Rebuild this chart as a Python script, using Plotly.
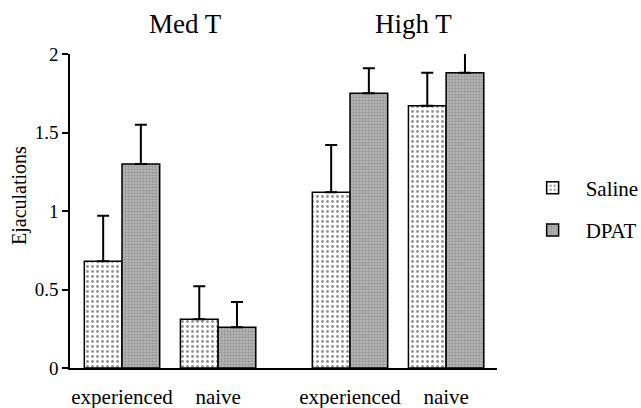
import plotly.graph_objects as go

# ---- data ----
groups = ["experienced", "naive", "experienced", "naive"]
conditions = ["Med T", "Med T", "High T", "High T"]
saline = [0.68, 0.31, 1.12, 1.67]
saline_err = [0.29, 0.21, 0.30, 0.21]
dpat = [1.30, 0.26, 1.75, 1.88]
dpat_err = [0.25, 0.16, 0.16, 0.13]
y_ticks = [0, 0.5, 1, 1.5, 2]
y_ticktext = ["0", "0.5", "1", "1.5", "2"]

# ---- layout positions (group centres, larger gap between Med T and High T) ----
step = 2.55
cond_gap = 0.95
start = 1.38
pos = [start + step * i + (cond_gap if i >= 2 else 0) for i in range(len(groups))]

FONT = "Liberation Serif"

fig = go.Figure()
fig.add_trace(go.Bar(
    x=pos, y=saline, name="Saline", legendgroup="s", cliponaxis=False,
    marker=dict(color="white", line=dict(color="black", width=1.5),
                pattern=dict(shape=".", fgcolor="#222", bgcolor="white", size=5, solidity=0.25)),
    error_y=dict(type="data", symmetric=False, array=saline_err,
                 arrayminus=[0] * len(saline_err), color="black", thickness=2, width=6),
))
fig.add_trace(go.Bar(
    x=pos, y=dpat, name="DPAT", legendgroup="d", cliponaxis=False,
    marker=dict(color="#a8a8a8", line=dict(color="black", width=1.5),
                pattern=dict(shape=".", fgcolor="#707070", bgcolor="#b4b4b4", size=3, solidity=0.4)),
    error_y=dict(type="data", symmetric=False, array=dpat_err,
                 arrayminus=[0] * len(dpat_err), color="black", thickness=2, width=6),
))

# condition titles above groups
for cond in ["Med T", "High T"]:
    idx = [i for i, c in enumerate(conditions) if c == cond]
    cx = (pos[idx[0]] + pos[idx[-1]]) / 2 + 0.4
    fig.add_annotation(x=cx, xref="x", y=1.096, yref="paper", text=cond, showarrow=False,
                       font=dict(family=FONT, size=27, color="black"),
                       xanchor="center", yanchor="middle")

fig.add_annotation(x=-0.117, xref="paper", y=0.548, yref="paper", text="Ejaculations",
                   textangle=-90, showarrow=False, xanchor="center", yanchor="middle",
                   font=dict(family=FONT, size=20, color="black"))

fig.update_layout(
    width=641, height=408,
    margin=dict(l=70, r=144, t=54, b=40, autoexpand=False),
    paper_bgcolor="white", plot_bgcolor="white",
    barmode="group", bargap=1 - 2 / step, bargroupgap=0,
    font=dict(family=FONT, color="black"),
    showlegend=True,
    legend=dict(x=1.053, xanchor="left", y=0.506, yanchor="middle",
                traceorder="grouped", tracegroupgap=12, itemwidth=56,
                font=dict(family=FONT, size=21, color="black"), bgcolor="rgba(0,0,0,0)"),
    xaxis=dict(range=[0, 11.33], showline=True, linecolor="black", linewidth=1.5,
               tickvals=pos, ticktext=groups, ticks="outside", ticklen=9,
               tickcolor="rgba(0,0,0,0)", showgrid=False, zeroline=False, automargin=False,
               tickfont=dict(family=FONT, size=21, color="black")),
    yaxis=dict(range=[0, 2], showline=True, linecolor="black", linewidth=1.5,
               tickvals=y_ticks, ticktext=y_ticktext, ticks="outside", ticklen=6,
               tickwidth=1.5, tickcolor="black", showgrid=False, zeroline=False, automargin=False,
               tickfont=dict(family=FONT, size=19, color="black")),
)

fig.write_html("out.html", config={"displayModeBar": False},
               post_script="document.body.style.margin='0';")
